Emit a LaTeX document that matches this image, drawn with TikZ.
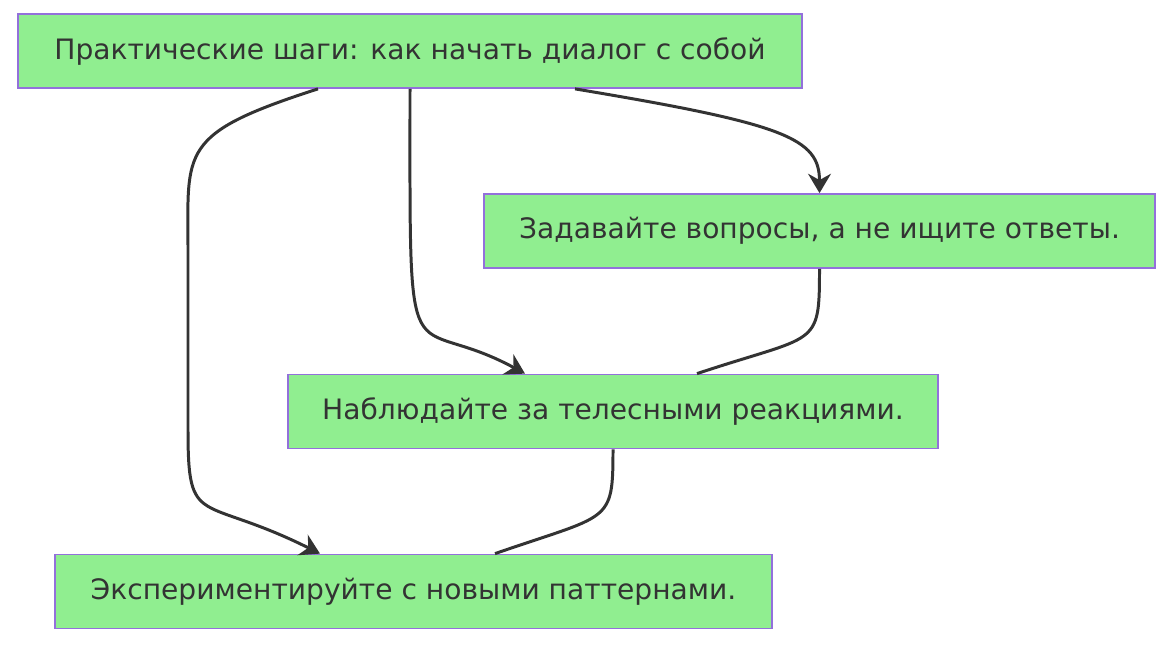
\documentclass[tikz,border=0pt]{standalone}
\usepackage{fontspec}
\setmainfont{DejaVu Sans}
\usetikzlibrary{arrows.meta}
\definecolor{boxfill}{HTML}{90EE90}
\definecolor{boxline}{HTML}{9370DB}
\definecolor{edgecol}{HTML}{333333}
\begin{document}
\begin{tikzpicture}[>={Stealth[length=11pt,width=13pt]},
    stepbox/.style={draw=boxline, fill=boxfill, line width=1pt, inner sep=0pt,
        minimum height=1.48cm, font=\fontsize{16}{19}\selectfont, text=edgecol},
    link/.style={draw=edgecol, line width=1.7pt}]
    \useasboundingbox (0,0) rectangle (23.3,-12.9);

    % boxes
    \node[stepbox, minimum width=15.68cm] (start) at (8.2,-1.02) {Практические шаги: как начать диалог с собой};
    \node[stepbox, minimum width=13.42cm] (ask) at (16.39,-4.62) {Задавайте вопросы, а не ищите ответы.};
    \node[stepbox, minimum width=13.0cm] (watch) at (12.26,-8.23) {Наблюдайте за телесными реакциями.};
    \node[stepbox, minimum width=14.34cm] (try) at (8.27,-11.83) {Экспериментируйте с новыми паттернами.};

    % helper points on the long left edge
    \coordinate (l1) at (3.76,-5);
    \coordinate (l2) at (3.76,-8.6);

    % edges
    \draw[link,->] ([xshift=3.3cm]start.south) .. controls +(4.2,-0.7) and +(0,1.1) .. (ask.north);
    \draw[link,->] (start.south) .. controls +(0,-6.2) and +(-2.4,1.3) .. ([xshift=-1.76cm]watch.north);
    \draw[link,->] ([xshift=-1.84cm]start.south) .. controls +(-2.8,-0.9) and +(0,2) .. (l1) -- (l2)
        .. controls +(0,-2) and +(-2.4,1.2) .. ([xshift=-1.87cm]try.north);
    \draw[link] (ask.south) .. controls +(0,-1.6) and +(2.4,0.8) .. ([xshift=1.68cm]watch.north);
    \draw[link] (watch.south) .. controls +(0,-1.5) and +(2.3,0.8) .. ([xshift=1.63cm]try.north);
\end{tikzpicture}
\end{document}
